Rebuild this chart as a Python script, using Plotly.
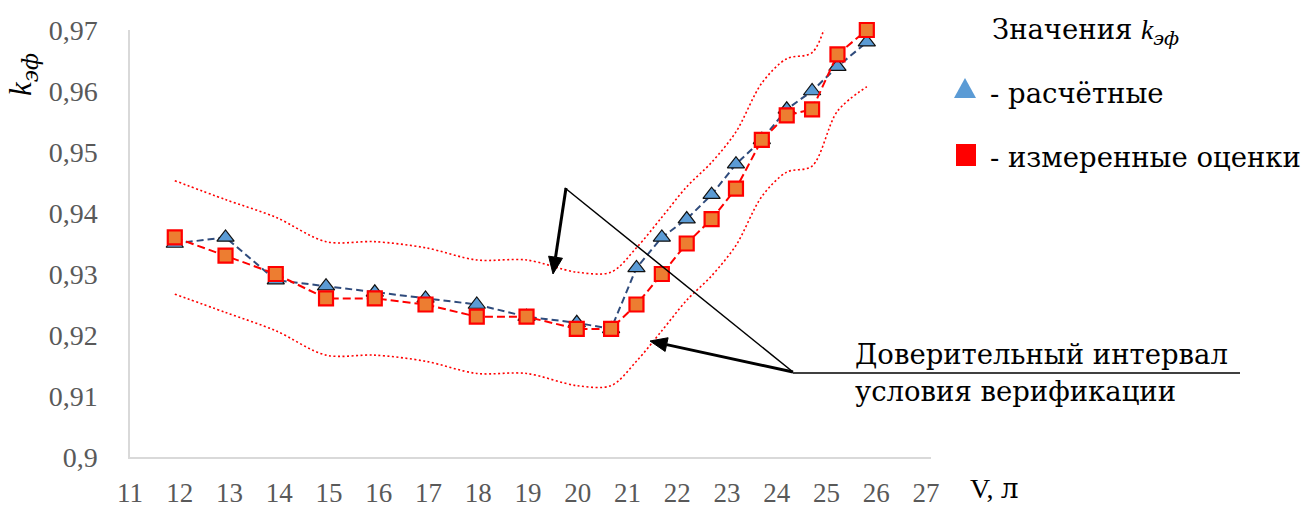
import math
import plotly.graph_objects as go

# ---- data ----
V = [11.9, 12.92, 13.93, 14.94, 15.92, 16.94, 17.97, 18.97, 19.98, 20.67,
     21.18, 21.69, 22.19, 22.69, 23.18, 23.7, 24.2, 24.71, 25.22, 25.81]
k_calc = [0.935, 0.936, 0.929, 0.928, 0.927, 0.926, 0.925, 0.923, 0.922, 0.921,
          0.931, 0.936, 0.939, 0.943, 0.948, 0.952, 0.957, 0.960, 0.964, 0.968]
k_meas = [0.936, 0.933, 0.930, 0.926, 0.926, 0.925, 0.923, 0.923, 0.921, 0.921,
          0.925, 0.930, 0.935, 0.939, 0.944, 0.952, 0.956, 0.957, 0.966, 0.970]
band_upper = [0.9453, 0.9422, 0.9393, 0.9353, 0.9353, 0.9343, 0.9323, 0.9323, 0.9303, 0.9303,
              0.9343, 0.9393, 0.9443, 0.9483, 0.9533, 0.9613, 0.9653, 0.9663, 0.9753, 0.9793]
band_lower = [0.9267, 0.9237, 0.9207, 0.9167, 0.9167, 0.9157, 0.9137, 0.9137, 0.9117, 0.9117,
              0.9157, 0.9207, 0.9257, 0.9297, 0.9347, 0.9427, 0.9467, 0.9477, 0.9567, 0.9607]
x_ticks = list(range(11, 28))
y_ticks = [0.90, 0.91, 0.92, 0.93, 0.94, 0.95, 0.96, 0.97]
y_ticktext = ["0,9", "0,91", "0,92", "0,93", "0,94", "0,95", "0,96", "0,97"]

FONT = "Liberation Serif"
CYR = "DejaVu Serif"
W, H = 1306, 508
L, R, T, B = 130, 375, 30, 51
PW, PH = W - L - R, H - T - B


def px(xp):
    return (xp - L) / PW


def py(yp):
    return (H - B - yp) / PH


def lat(s):
    return "<span style='font-family:Liberation Serif'>" + s + "</span>"


def arrow_shapes(tail, tip, width=3, head_len=17, head_half=7):
    """Arrow drawn as shaft line + filled triangular head (pixel positions -> paper)."""
    dx, dy = tip[0] - tail[0], tip[1] - tail[1]
    n = math.hypot(dx, dy)
    ux, uy = dx / n, dy / n
    bx, by = tip[0] - head_len * ux, tip[1] - head_len * uy
    qx, qy = -uy, ux
    c1 = (bx + head_half * qx, by + head_half * qy)
    c2 = (bx - head_half * qx, by - head_half * qy)
    path = "M {:.5f} {:.5f} L {:.5f} {:.5f} L {:.5f} {:.5f} Z".format(
        px(tip[0]), py(tip[1]), px(c1[0]), py(c1[1]), px(c2[0]), py(c2[1]))
    return [
        dict(type="line", xref="paper", yref="paper", x0=px(tail[0]), y0=py(tail[1]),
             x1=px(bx), y1=py(by), line=dict(color="#000000", width=width)),
        dict(type="path", xref="paper", yref="paper", path=path,
             fillcolor="#000000", line=dict(color="#000000", width=1)),
    ]


fig = go.Figure()

band_style = dict(color="#FF0000", width=1.6, dash="2px,2.5px", shape="spline", smoothing=0.9)
fig.add_trace(go.Scatter(x=V, y=band_upper, mode="lines", line=band_style, hoverinfo="skip"))
fig.add_trace(go.Scatter(x=V, y=band_lower, mode="lines", line=band_style, hoverinfo="skip"))

fig.add_trace(go.Scatter(
    x=V, y=k_calc, mode="lines+markers", cliponaxis=False,
    line=dict(color="#2F4B7C", width=2, dash="7px,4px"),
    marker=dict(symbol="triangle-up", size=15, color="#5B9BD5",
                line=dict(color="#111111", width=1.2)),
))
fig.add_trace(go.Scatter(
    x=V, y=k_meas, mode="lines+markers", cliponaxis=False,
    line=dict(color="#FF0000", width=2, dash="8px,4px"),
    marker=dict(symbol="square", size=14, color="#ED7D31",
                line=dict(color="#FF0000", width=2.2)),
))

TXT = dict(family=CYR, size=27.5, color="#000000")
annotations = []
# legend text
annotations.append(dict(xref="paper", yref="paper", x=px(990), y=py(31), xanchor="left", yanchor="middle",
                        text="Значения " + lat("<i>k</i>") + "<sub><i>эф</i></sub>", showarrow=False, font=TXT))
annotations.append(dict(xref="paper", yref="paper", x=px(988), y=py(93), xanchor="left", yanchor="middle",
                        text="- расчётные", showarrow=False, font=TXT))
annotations.append(dict(xref="paper", yref="paper", x=px(988), y=py(157), xanchor="left", yanchor="middle",
                        text="- измеренные оценки", showarrow=False, font=TXT))
# interval caption
annotations.append(dict(xref="paper", yref="paper", x=px(853), y=py(354), xanchor="left", yanchor="middle",
                        text="Доверительный интервал", showarrow=False, font=TXT))
annotations.append(dict(xref="paper", yref="paper", x=px(853), y=py(391), xanchor="left", yanchor="middle",
                        text="условия верификации", showarrow=False, font=TXT))
# axis titles
annotations.append(dict(xref="paper", yref="paper", x=px(23), y=py(75), xanchor="center", yanchor="middle",
                        text=lat("<i>k</i>") + "<sub><i>эф</i></sub>", showarrow=False, textangle=-90,
                        font=dict(family=CYR, size=31, color="#000000")))
annotations.append(dict(xref="paper", yref="paper", x=px(968), y=py(488), xanchor="left", yanchor="middle",
                        text=lat("V, ") + "л", showarrow=False,
                        font=dict(family=CYR, size=28, color="#000000")))

shapes = []
# thin leader line and underline
shapes.append(dict(type="line", xref="paper", yref="paper", x0=px(565), y0=py(188), x1=px(793), y1=py(372),
                   line=dict(color="#000000", width=1.5)))
shapes.append(dict(type="line", xref="paper", yref="paper", x0=px(793), y0=py(373), x1=px(1240), y1=py(373),
                   line=dict(color="#000000", width=1.5)))
# arrows
shapes += arrow_shapes((793, 372), (650, 341))
shapes += arrow_shapes((566, 188), (553, 274))
# legend glyphs
shapes.append(dict(type="path", xref="paper", yref="paper", xsizemode="pixel", ysizemode="pixel",
                   xanchor=px(965), yanchor=py(88), path="M -11 -10 L 11 -10 L 0 10 Z",
                   fillcolor="#5B9BD5", line=dict(width=0)))
shapes.append(dict(type="rect", xref="paper", yref="paper", xsizemode="pixel", ysizemode="pixel",
                   xanchor=px(966), yanchor=py(155), x0=-10, x1=10, y0=-11, y1=11,
                   fillcolor="#FF0000", line=dict(width=0)))

fig.update_layout(
    width=W, height=H,
    margin=dict(l=L, r=R, t=T, b=B, autoexpand=False),
    paper_bgcolor="#FFFFFF", plot_bgcolor="#FFFFFF",
    showlegend=False,
    annotations=annotations, shapes=shapes,
    font=dict(family=FONT),
)
fig.update_xaxes(range=[11, 27.1], tickvals=x_ticks, ticktext=[str(t) for t in x_ticks],
                 showgrid=False, zeroline=False, showline=True, linecolor="#D9D9D9", linewidth=1.5,
                 ticks="", ticklabelstandoff=11, automargin=False,
                 tickfont=dict(family=FONT, size=27, color="#595959"))
fig.update_yaxes(range=[0.90, 0.97], tickvals=y_ticks, ticktext=y_ticktext,
                 showgrid=False, zeroline=False, showline=True, linecolor="#D9D9D9", linewidth=1.5,
                 ticks="", ticklabelstandoff=25, automargin=False,
                 tickfont=dict(family=FONT, size=28, color="#595959"))

fig.write_html("out.html", config={"displayModeBar": False},
               post_script="document.body.style.margin='0';document.body.style.overflow='hidden';")
